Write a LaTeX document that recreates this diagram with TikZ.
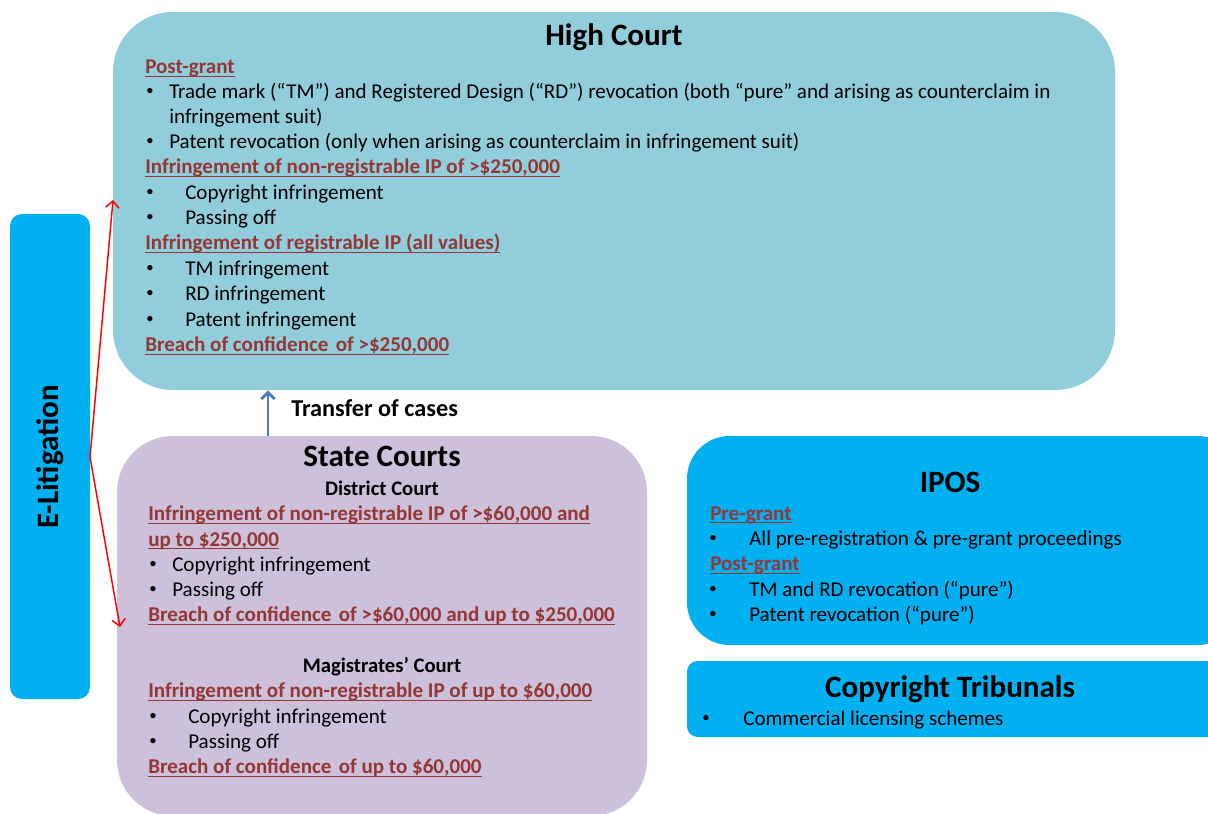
\documentclass[tikz,border=0pt]{standalone}
\usepackage{fontspec}
\setmainfont{Carlito}
\newfontfamily\bulfont{Liberation Sans}
\usetikzlibrary{arrows.meta,fit}
\definecolor{hcfill}{RGB}{146,205,220}
\definecolor{scfill}{RGB}{204,192,218}
\definecolor{cyanbox}{RGB}{0,176,240}
\definecolor{hdred}{RGB}{149,55,53}
\definecolor{arrblue}{RGB}{74,126,187}
\definecolor{arrred}{RGB}{255,0,0}
\newcommand\bodyfont{\fontsize{15.8}{18}\selectfont}
\newcommand\hdline[1]{{\color{hdred}\setbox0\hbox{#1}\rlap{\rule[-2.6pt]{\wd0}{1.1pt}}\box0}}
\newcommand\cof{confidence\hspace{0.12em} of}
\begin{document}
\begin{tikzpicture}[x=0.75pt,y=-0.75pt,
  txt/.style={anchor=base west, inner sep=0, font=\bodyfont},
  hd/.style={txt, text=hdred, font=\bodyfont\bfseries},
  bul/.style={anchor=base, inner sep=0, font=\bulfont\fontsize{14.5}{16}\selectfont},
  ttl/.style={anchor=base, inner sep=0, font=\bfseries\fontsize{23.3}{28}\selectfont},
  sub/.style={anchor=base, inner sep=0, font=\bfseries\fontsize{15.5}{18}\selectfont},
  panel/.style={inner sep=0, draw=none}]
\useasboundingbox (0,0) rectangle (1208,814);
\clip (0,0) rectangle (1208,814);
% boxes
\node[panel, fill=hcfill, rounded corners=45pt, fit={(113,12)(1115,390)}] (hc) {};
\node[panel, fill=scfill, rounded corners=42pt, fit={(117,436)(647,816)}] (sc) {};
\node[panel, fill=cyanbox, rounded corners=9pt, fit={(10,214)(90,699)}] (el) {};
\node[panel, fill=cyanbox, rounded corners=32pt, fit={(687,436)(1240,645)}] (ipos) {};
\node[panel, fill=cyanbox, rounded corners=8pt, fit={(687,661)(1240,737)}] (ct) {};

% E-Litigation
\node[rotate=90, inner sep=0, font=\bfseries\fontsize{23.3}{28}\selectfont] (eltxt) at (50,457) {E-Litigation};

% High Court
\node[ttl] (hct) at (614,45) {High Court};
\node[hd] (hc1) at (145,73.5) {\hdline{Post-grant}};
\node[bul] (hb1) at (150,97) {•};
\node[txt] (hc2) at (169,98) {Trade mark (“TM”) and Registered Design (“RD”) revocation (both “pure” and arising as counterclaim in};
\node[txt] (hc3) at (169,123) {infringement suit)};
\node[bul] (hb2) at (150,147.5) {•};
\node[txt] (hc4) at (169,148.5) {Patent revocation (only when arising as counterclaim in infringement suit)};
\node[hd] (hc5) at (145,173.5) {\hdline{Infringement of non-registrable IP of >\$250,000}};
\node[bul] (hb3) at (150,198) {•};
\node[txt] (hc6) at (185,199) {Copyright infringement};
\node[bul] (hb4) at (150,223.5) {•};
\node[txt] (hc7) at (185,224.5) {Passing off};
\node[hd] (hc8) at (145,249.5) {\hdline{Infringement of registrable IP (all values)}};
\node[bul] (hb5) at (150,274.5) {•};
\node[txt] (hc9) at (185,275.5) {TM infringement};
\node[bul] (hb6) at (150,299.5) {•};
\node[txt] (hc10) at (185,300.5) {RD infringement};
\node[bul] (hb7) at (150,325) {•};
\node[txt] (hc11) at (185,326) {Patent infringement};
\node[hd] (hc12) at (145,351.5) {\hdline{Breach of \cof\ >\$250,000}};

% Transfer
\node[anchor=base west, inner sep=0, font=\bfseries\fontsize{18.2}{21}\selectfont] (tr) at (291,416) {Transfer of cases};
\draw[arrblue, line width=2.2pt, -{Straight Barb[length=5pt,width=10pt]}] (sc.north -| 268,0) -- (hc.south -| 268,0);

% State Courts
\node[ttl] (sct) at (382,466) {State Courts};
\node[sub] (sc1) at (382,495) {District Court};
\node[hd] (sc2) at (148,520.5) {\hdline{Infringement of non-registrable IP of >\$60,000 and}};
\node[hd] (sc3) at (148,546) {\hdline{up to \$250,000}};
\node[bul] (sb1) at (153,570.5) {•};
\node[txt] (sc4) at (172,571.5) {Copyright infringement};
\node[bul] (sb2) at (153,595.5) {•};
\node[txt] (sc5) at (172,596.5) {Passing off};
\node[hd] (sc6) at (148,621.5) {\hdline{Breach of \cof\ >\$60,000 and up to \$250,000}};
\node[sub] (sc7) at (382,672.5) {Magistrates’ Court};
\node[hd] (sc8) at (148,697.5) {\hdline{Infringement of non-registrable IP of up to \$60,000}};
\node[bul] (sb3) at (153,722) {•};
\node[txt] (sc9) at (188,723) {Copyright infringement};
\node[bul] (sb4) at (153,747) {•};
\node[txt] (sc10) at (188,748) {Passing off};
\node[hd] (sc11) at (148,773.5) {\hdline{Breach of \cof\ up to \$60,000}};

% IPOS
\node[ttl] (ipt) at (950,492) {IPOS};
\node[hd] (ip1) at (710,520) {\hdline{Pre-grant}};
\node[bul] (ib1) at (713,544.5) {•};
\node[txt] (ip2) at (749,545.5) {All pre-registration \& pre-grant proceedings};
\node[hd] (ip3) at (710,570.5) {\hdline{Post-grant}};
\node[bul] (ib2) at (713,595) {•};
\node[txt] (ip4) at (749,596) {TM and RD revocation (“pure”)};
\node[bul] (ib3) at (713,620) {•};
\node[txt] (ip5) at (749,621) {Patent revocation (“pure”)};

% Copyright Tribunals
\node[ttl] (ctt) at (950,697) {Copyright Tribunals};
\node[bul] (cb1) at (706,724.5) {•};
\node[txt] (ct1) at (743,725.5) {Commercial licensing schemes};

% E-Litigation connectors
\coordinate (elr) at (90,457);
\coordinate (hcin) at (113,200);
\coordinate (scin) at (120,627);
\draw[arrred, line width=1.1pt, -{Straight Barb[length=5pt,width=10pt]}] (elr) -- (hcin);
\draw[arrred, line width=1.1pt, -{Straight Barb[length=5pt,width=10pt]}] (elr) -- (scin);
\end{tikzpicture}
\end{document}
